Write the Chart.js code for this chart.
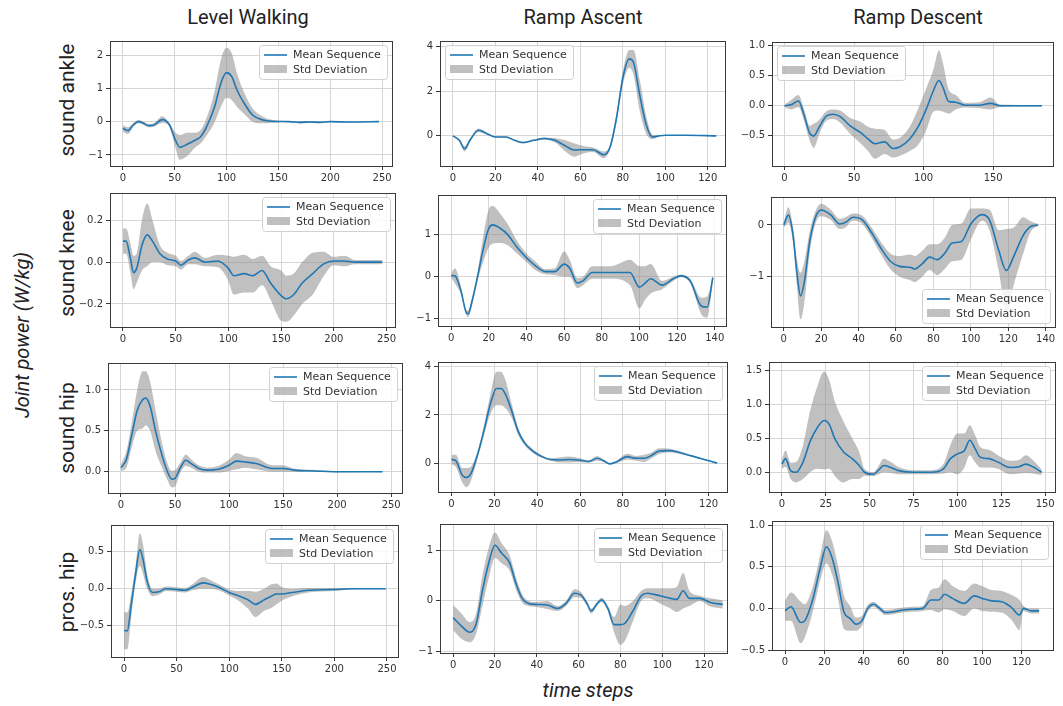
<!DOCTYPE html>
<html>
<head>
<meta charset="utf-8">
<script src="https://cdn.jsdelivr.net/npm/chart.js@4.4.0/dist/chart.umd.min.js"></script>
<style>
  html, body { margin: 0; padding: 0; background: #fff; }
  #wrap { position: relative; width: 1063px; height: 706px; overflow: hidden; font-family: Roboto, "Noto Sans", sans-serif; color: #222; }
  .col-title { position: absolute; top: 5px; font-size: 20px; transform: translateX(-50%); white-space: nowrap; }
  .row-label { position: absolute; font-size: 21px; transform: translate(-50%, -50%) rotate(-90deg); white-space: nowrap; }
  .ax-label { position: absolute; font-size: 20px; font-style: italic; white-space: nowrap; }
  canvas { position: absolute; }
</style>
</head>
<body>
<div id="wrap">
  <div class="col-title" style="left:248px">Level Walking</div>
  <div class="col-title" style="left:583px">Ramp Ascent</div>
  <div class="col-title" style="left:918px">Ramp Descent</div>
  <div class="row-label" style="left:67px;top:100px">sound ankle</div>
  <div class="row-label" style="left:67px;top:263px">sound knee</div>
  <div class="row-label" style="left:67px;top:428px">sound hip</div>
  <div class="row-label" style="left:67px;top:592px">pros. hip</div>
  <div class="ax-label" style="left:22px;top:335px;transform:translate(-50%,-50%) rotate(-90deg)">Joint power (W/kg)</div>
  <div class="ax-label" style="left:588px;top:690px;transform:translate(-50%,-50%)">time steps</div>
</div>
<script>
// ---- data: time step, mean power, std half-width ----

// level walking
const lwAnkleX = [0,5,10,15,20,25,30,38,45,50,55,62,70,75,80,88,95,100,105,110,118,125,135,145,160,170,180,190,200,220,247];
const lwAnkleMean = [-0.2,-0.27,-0.1,0,-0.05,-0.12,-0.1,0.06,-0.1,-0.5,-0.77,-0.68,-0.55,-0.45,-0.2,0.4,1.2,1.47,1.35,0.95,0.5,0.2,0.05,0.01,0,-0.02,-0.01,-0.02,0,-0.01,0];
const lwAnkleStd = [0.1,0.1,0.06,0.05,0.05,0.05,0.05,0.1,0.05,0.2,0.37,0.35,0.22,0.2,0.25,0.45,0.72,0.75,0.7,0.5,0.3,0.2,0.1,0.04,0.02,0.03,0.03,0.02,0.01,0.01,0.01];

const lwKneeX = [0,3,7,10,13,18,23,28,35,42,50,55,62,68,78,90,100,105,115,123,132,140,150,155,162,170,180,190,200,210,220,246];
const lwKneeMean = [0.1,0.1,0.02,-0.05,-0.03,0.08,0.13,0.1,0.04,0.015,0.005,-0.015,0.01,0.02,0,0.005,-0.03,-0.065,-0.055,-0.065,-0.04,-0.1,-0.16,-0.175,-0.155,-0.1,-0.055,-0.01,0.005,0.005,0,0];
const lwKneeStd = [0.06,0.06,0.07,0.08,0.07,0.12,0.15,0.1,0.04,0.03,0.025,0.02,0.02,0.03,0.02,0.03,0.06,0.09,0.09,0.08,0.07,0.08,0.12,0.11,0.1,0.1,0.1,0.06,0.02,0.025,0.01,0.01];

const lwHipX = [0,5,10,15,20,23,27,32,38,43,47,50,55,60,65,72,80,90,100,107,115,125,140,150,160,180,200,242];
const lwHipMean = [0.05,0.15,0.45,0.75,0.88,0.9,0.8,0.5,0.2,0,-0.09,-0.08,0.05,0.14,0.1,0.04,0.02,0.03,0.08,0.13,0.12,0.1,0.04,0.04,0.02,0.01,0,0];
const lwHipStd = [0.04,0.1,0.15,0.25,0.35,0.33,0.3,0.25,0.15,0.1,0.1,0.1,0.06,0.07,0.05,0.04,0.03,0.04,0.07,0.1,0.07,0.07,0.04,0.04,0.02,0.01,0.005,0];

const lwProsX = [0,3,7,11,15,18,22,27,33,40,50,58,65,75,82,90,100,110,118,125,133,140,145,150,160,175,200,215,249];
const lwProsMean = [-0.56,-0.57,-0.2,0.2,0.53,0.4,0.1,-0.05,-0.04,0,-0.01,-0.02,0.02,0.08,0.06,0.02,-0.05,-0.1,-0.15,-0.21,-0.15,-0.1,-0.07,-0.07,-0.05,-0.02,-0.01,0,0];
const lwProsStd = [0.25,0.25,0.15,0.12,0.22,0.2,0.1,0.05,0.04,0.03,0.03,0.03,0.04,0.08,0.06,0.04,0.04,0.07,0.12,0.17,0.15,0.16,0.14,0.09,0.05,0.03,0.02,0.01,0];

// ramp ascent
const raAnkleX = [0,3,5.5,8,12,16,20,25,29,33,38,43,48,53,57,62,66,71,74,77,80,83,85,88,91,94,97,100,110,124];
const raAnkleMean = [0,-0.2,-0.58,-0.2,0.25,0.1,-0.05,-0.05,-0.2,-0.3,-0.2,-0.12,-0.2,-0.45,-0.63,-0.62,-0.62,-0.85,-0.5,0.8,2.6,3.45,3.3,1.8,0.5,-0.05,0,0.03,0.03,0];
const raAnkleStd = [0.02,0.06,0.12,0.08,0.08,0.04,0.02,0.02,0.03,0.04,0.04,0.05,0.1,0.25,0.3,0.15,0.1,0.15,0.1,0.2,0.3,0.4,0.55,0.7,0.4,0.1,0.02,0.01,0.01,0.01];

const raKneeX = [0,2,5,8,9,11,14,17,20,22,26,30,35,40,45,50,55,60,63,67,70,75,85,95,100,103,106,112,118,122,127,133,136,139];
const raKneeMean = [0.03,0.02,-0.3,-0.85,-0.88,-0.6,0,0.65,1.15,1.23,1.15,1.0,0.7,0.45,0.25,0.12,0.12,0.3,0.2,-0.15,-0.1,0.1,0.1,0.1,-0.25,-0.15,-0.05,-0.2,-0.05,0.02,-0.1,-0.7,-0.72,-0.02];
const raKneeStd = [0.05,0.18,0.1,0.06,0.08,0.1,0.1,0.3,0.45,0.45,0.35,0.25,0.15,0.1,0.1,0.06,0.08,0.3,0.2,0.12,0.1,0.15,0.15,0.3,0.5,0.4,0.35,0.1,0.05,0.03,0.05,0.2,0.25,0.05];

const raHipX = [0,2,5,7,9,12,15,18,21,23,25,28,31,34,38,42,46,50,55,60,64,68,71,74,77,82,86,90,93,97,102,106,112,118,124];
const raHipMean = [0.15,0.1,-0.5,-0.6,-0.45,0.3,1.3,2.4,3.1,3.1,2.9,2.2,1.35,0.85,0.5,0.28,0.15,0.13,0.15,0.12,0.07,0.2,0.1,-0.03,0.05,0.27,0.2,0.2,0.3,0.5,0.52,0.45,0.3,0.15,0];
const raHipStd = [0.2,0.25,0.3,0.4,0.3,0.15,0.2,0.4,0.7,0.7,0.6,0.3,0.15,0.1,0.08,0.06,0.04,0.1,0.12,0.08,0.05,0.1,0.05,0.03,0.05,0.12,0.1,0.15,0.12,0.12,0.08,0.06,0.03,0.02,0.01];

const raProsX = [0,4,8,11,14,17,20,23,27,30,33,36,40,45,50,54,58,61,64,66,69,71,74,77,80,82,86,90,93,99,104,107,110,113,118,123,129];
const raProsMean = [-0.33,-0.5,-0.62,-0.45,0.2,0.75,1.1,0.95,0.75,0.35,0.05,-0.05,-0.07,-0.08,-0.15,-0.05,0.15,0.12,-0.05,-0.2,-0.05,0.02,-0.15,-0.47,-0.47,-0.45,-0.2,0.1,0.15,0.1,0.05,0.03,0.2,0.05,0.05,-0.03,-0.07];
const raProsStd = [0.25,0.25,0.2,0.2,0.3,0.3,0.25,0.2,0.15,0.12,0.08,0.05,0.05,0.08,0.05,0.05,0.08,0.06,0.05,0.05,0.04,0.04,0.05,0.15,0.4,0.35,0.2,0.1,0.1,0.15,0.2,0.25,0.35,0.15,0.05,0.08,0.08];

// ramp descent
const rdAnkleX = [0,5,10,14,18,21,25,30,35,40,47,55,60,65,72,78,83,90,96,102,107,111,114,118,123,130,140,148,155,185];
const rdAnkleMean = [0,0.02,0.08,-0.15,-0.45,-0.5,-0.35,-0.17,-0.14,-0.18,-0.33,-0.45,-0.55,-0.63,-0.6,-0.71,-0.68,-0.55,-0.35,-0.05,0.25,0.42,0.3,0.07,0.06,0.01,0.01,0.04,0,0];
const rdAnkleStd = [0.02,0.08,0.1,0.1,0.12,0.2,0.12,0.08,0.08,0.1,0.13,0.18,0.2,0.25,0.2,0.15,0.15,0.2,0.3,0.35,0.35,0.5,0.4,0.2,0.12,0.04,0.05,0.1,0.02,0.01];

const rdKneeX = [0,2.5,5,7,9,11,14,17,20,25,30,33,37,42,47,52,57,62,68,70,74,78,82,86,90,95,100,106,110,115,119,123,128,132,136];
const rdKneeMean = [0,0.19,-0.2,-0.9,-1.37,-1.1,-0.3,0.15,0.29,0.2,0.02,0.05,0.15,0.1,-0.15,-0.45,-0.7,-0.8,-0.82,-0.85,-0.75,-0.62,-0.67,-0.55,-0.35,-0.32,0.02,0.2,0.1,-0.5,-0.88,-0.6,-0.2,-0.03,0];
const rdKneeStd = [0.05,0.15,0.15,0.25,0.45,0.4,0.2,0.12,0.12,0.1,0.1,0.1,0.07,0.08,0.1,0.12,0.15,0.2,0.25,0.25,0.25,0.25,0.3,0.3,0.35,0.35,0.3,0.12,0.2,0.4,0.8,0.55,0.35,0.1,0.02];

const rdHipX = [0,2,5,8,12,16,20,24,27,30,35,40,44,47,52,55,58,62,67,75,85,92,96,100,104,107,110,113,118,123,130,135,139,143,148];
const rdHipMean = [0.12,0.2,0.02,0,0.15,0.45,0.65,0.76,0.7,0.5,0.3,0.2,0.1,0,-0.03,0.03,0.1,0.07,0.02,0,0,0.05,0.2,0.27,0.32,0.47,0.35,0.22,0.2,0.15,0.07,0.08,0.12,0.08,0];
const rdHipStd = [0.07,0.12,0.12,0.15,0.25,0.45,0.6,0.72,0.65,0.55,0.45,0.3,0.2,0.05,0.03,0.06,0.1,0.08,0.05,0.03,0.03,0.07,0.2,0.3,0.25,0.22,0.2,0.15,0.13,0.1,0.1,0.1,0.13,0.1,0.04];

const rdProsX = [0,3,8,10,14,18,21,24,27,30,33,36,39,42,45,48,51,55,60,65,70,74,78,81,85,91,96,100,105,110,115,119,121,125,129];
const rdProsMean = [-0.03,0.02,-0.17,-0.15,0.1,0.5,0.74,0.6,0.3,-0.05,-0.12,-0.19,-0.15,0,0.05,0,-0.05,-0.04,-0.02,-0.01,0,0.1,0.1,0.17,0.12,0.06,0.15,0.12,0.09,0.08,0.01,-0.08,0,-0.03,-0.03];
const rdProsStd = [0.12,0.17,0.25,0.2,0.15,0.15,0.2,0.2,0.2,0.2,0.15,0.08,0.06,0.04,0.03,0.03,0.03,0.03,0.03,0.03,0.03,0.12,0.15,0.18,0.15,0.15,0.15,0.15,0.13,0.13,0.15,0.18,0.03,0.03,0.03];

// tick values
const ticks250 = [0,50,100,150,200,250];
const ticks120 = [0,20,40,60,80,100,120];
const ticks140 = [0,20,40,60,80,100,120,140];
const ticks150by50 = [0,50,100,150];
const ticks150by25 = [0,25,50,75,100,125,150];

const BLUE = "#1f77b4";
const BAND = "rgba(140,140,140,0.55)";
const GRID = "#d6d6d6";
const AXIS = "#3a3a3a";
const TXT = "#333";
const PAD_L = 40, PAD_T = 10, PAD_R = 14, PAD_B = 20;

// box = plot area [left, top, right, bottom] on the page
const panels = [
  { box: [110, 41, 392, 166], x: lwAnkleX, mean: lwAnkleMean, std: lwAnkleStd, xr: [-12.4, 259.5], yr: [-1.33, 2.42], xt: ticks250, yt: [-1, 0, 1, 2], yd: 0, legend: "ur" },
  { box: [440, 41, 725, 166], x: raAnkleX, mean: raAnkleMean, std: raAnkleStd, xr: [-6.1, 128.1], yr: [-1.35, 4.25], xt: ticks120, yt: [0, 2, 4], yd: 0, legend: "ul" },
  { box: [772, 42, 1053, 166], x: rdAnkleX, mean: rdAnkleMean, std: rdAnkleStd, xr: [-9, 193], yr: [-1.0, 1.06], xt: ticks150by50, yt: [-0.5, 0, 0.5, 1], yd: 1, legend: "ul" },

  { box: [110, 193, 395, 327], x: lwKneeX, mean: lwKneeMean, std: lwKneeStd, xr: [-12.3, 258], yr: [-0.31, 0.33], xt: ticks250, yt: [-0.2, 0, 0.2], yd: 1, legend: "ur" },
  { box: [438, 195, 726, 326], x: raKneeX, mean: raKneeMean, std: raKneeStd, xr: [-7, 146], yr: [-1.17, 1.94], xt: ticks140, yt: [-1, 0, 1], yd: 0, legend: "ur" },
  { box: [771, 197, 1055, 327], x: rdKneeX, mean: rdKneeMean, std: rdKneeStd, xr: [-6.8, 145], yr: [-1.97, 0.54], xt: ticks140, yt: [-1, 0], yd: 0, legend: "lr" },

  { box: [108, 363, 402, 493], x: lwHipX, mean: lwHipMean, std: lwHipStd, xr: [-12, 260], yr: [-0.26, 1.33], xt: ticks250, yt: [0, 0.5, 1], yd: 1, legend: "ur" },
  { box: [438, 362, 727, 492], x: raHipX, mean: raHipMean, std: raHipStd, xr: [-6.3, 128.6], yr: [-1.2, 4.2], xt: ticks120, yt: [0, 2, 4], yd: 0, legend: "ur" },
  { box: [769, 362, 1055, 492], x: rdHipX, mean: rdHipMean, std: rdHipStd, xr: [-7.4, 155.6], yr: [-0.29, 1.62], xt: ticks150by25, yt: [0, 0.5, 1, 1.5], yd: 1, legend: "ur" },

  { box: [111, 525, 398, 657], x: lwProsX, mean: lwProsMean, std: lwProsStd, xr: [-12.4, 260.5], yr: [-0.92, 0.86], xt: ticks250, yt: [-0.5, 0, 0.5], yd: 1, legend: "ur" },
  { box: [440, 524, 727, 653], x: raProsX, mean: raProsMean, std: raProsStd, xr: [-6.3, 131], yr: [-1.03, 1.52], xt: ticks120, yt: [-1, 0, 1], yd: 0, legend: "ur" },
  { box: [772, 521, 1053, 650], x: rdProsX, mean: rdProsMean, std: rdProsStd, xr: [-6.6, 136], yr: [-0.5, 1.05], xt: ticks120, yt: [-0.5, 0, 0.5, 1], yd: 1, legend: "ur" }
];

function fmt(v, dec) {
  const s = dec ? Number(v).toFixed(dec) : String(Math.round(v));
  return s.replace("-", "\u2212");
}

// axes frame + in-plot legend, matplotlib style
const framePlugin = {
  id: "frame",
  afterDraw(chart, args, opts) {
    const { ctx, chartArea: a } = chart;
    ctx.save();
    ctx.strokeStyle = AXIS;
    ctx.lineWidth = 1;
    ctx.strokeRect(Math.round(a.left) + 0.5, Math.round(a.top) + 0.5, Math.round(a.right - a.left), Math.round(a.bottom - a.top));

    ctx.font = '11px "DejaVu Sans"';
    const tw = Math.max(ctx.measureText("Mean Sequence").width, ctx.measureText("Std Deviation").width);
    const w = Math.round(34 + tw + 6), h = 34;
    const c = opts.corner || "ur";
    const x = c[1] === "r" ? Math.round(a.right - w - 5) : Math.round(a.left + 5);
    const y = c[0] === "u" ? Math.round(a.top + 4) : Math.round(a.bottom - h - 4);
    ctx.fillStyle = "rgba(255,255,255,0.85)";
    ctx.strokeStyle = "#d0d0d0";
    ctx.beginPath();
    ctx.roundRect(x + 0.5, y + 0.5, w, h, 3);
    ctx.fill();
    ctx.stroke();

    ctx.strokeStyle = BLUE;
    ctx.lineWidth = 1.6;
    ctx.beginPath();
    ctx.moveTo(x + 5, y + 10);
    ctx.lineTo(x + 28, y + 10);
    ctx.stroke();
    ctx.fillStyle = BAND;
    ctx.fillRect(x + 5, y + 20, 23, 8);

    ctx.fillStyle = TXT;
    ctx.textBaseline = "middle";
    ctx.fillText("Mean Sequence", x + 34, y + 10);
    ctx.fillText("Std Deviation", x + 34, y + 25);
    ctx.restore();
  }
};

const wrap = document.getElementById("wrap");

panels.forEach(p => {
  const [l, t, r, b] = p.box;
  const cv = document.createElement("canvas");
  cv.width = r - l + PAD_L + PAD_R;
  cv.height = b - t + PAD_T + PAD_B;
  cv.style.left = (l - PAD_L) + "px";
  cv.style.top = (t - PAD_T) + "px";
  wrap.appendChild(cv);

  const pts = k => p.x.map((x, i) => ({ x, y: p.mean[i] + k * p.std[i] }));
  const line = { pointRadius: 0, cubicInterpolationMode: "monotone" };

  new Chart(cv, {
    type: "line",
    data: {
      datasets: [
        { ...line, label: "Mean Sequence", data: pts(0), borderColor: BLUE, borderWidth: 1.6, fill: false },
        { ...line, label: "upper", data: pts(1), borderWidth: 0, borderColor: "rgba(0,0,0,0)", backgroundColor: BAND, fill: "+1" },
        { ...line, label: "lower", data: pts(-1), borderWidth: 0, borderColor: "rgba(0,0,0,0)", fill: false }
      ]
    },
    options: {
      responsive: false,
      animation: false,
      events: [],
      layout: { padding: { top: PAD_T, right: PAD_R, left: 0, bottom: 0 } },
      plugins: { legend: { display: false }, tooltip: { enabled: false }, frame: { corner: p.legend } },
      scales: {
        x: {
          type: "linear", min: p.xr[0], max: p.xr[1],
          afterBuildTicks: ax => { ax.ticks = p.xt.map(v => ({ value: v })); },
          afterFit: ax => { ax.height = PAD_B; },
          border: { display: false },
          grid: { color: GRID, lineWidth: 1, drawTicks: true, tickLength: 4, tickColor: AXIS },
          ticks: { color: TXT, font: { family: "DejaVu Sans", size: 10 }, padding: 2, maxRotation: 0, autoSkip: false, callback: v => fmt(v, 0) }
        },
        y: {
          type: "linear", min: p.yr[0], max: p.yr[1],
          afterBuildTicks: ax => { ax.ticks = p.yt.map(v => ({ value: v })); },
          afterFit: ax => { ax.width = PAD_L; },
          border: { display: false },
          grid: { color: GRID, lineWidth: 1, drawTicks: true, tickLength: 4, tickColor: AXIS },
          ticks: { color: TXT, font: { family: "DejaVu Sans", size: 10 }, padding: 3, autoSkip: false, callback: v => fmt(v, p.yd) }
        }
      }
    },
    plugins: [framePlugin]
  });
});
</script>
</body>
</html>
